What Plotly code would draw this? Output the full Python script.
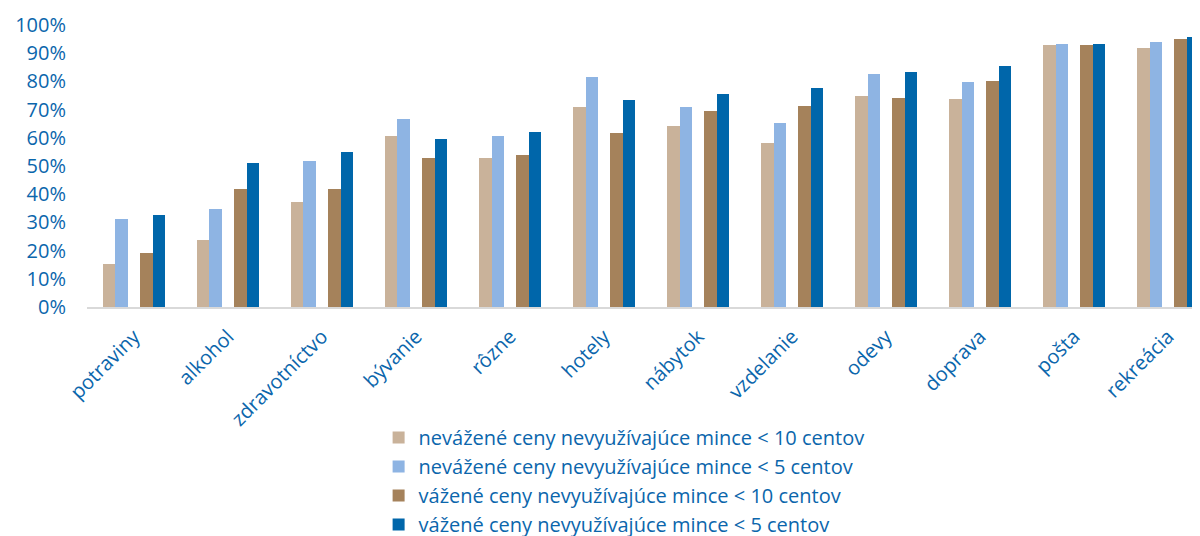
import plotly.graph_objects as go

categories = ["potraviny", "alkohol", "zdravotníctvo", "bývanie", "rôzne", "hotely",
              "nábytok", "vzdelanie", "odevy", "doprava", "pošta", "rekreácia"]

series_names = [
    "nevážené ceny nevyužívajúce mince < 10 centov",
    "nevážené ceny nevyužívajúce mince < 5 centov",
    "vážené ceny nevyužívajúce mince < 10 centov",
    "vážené ceny nevyužívajúce mince < 5 centov",
]

unweighted_10 = [15.2, 23.9, 37.3, 60.6, 52.8, 71.0, 64.2, 58.3, 74.7, 73.8, 93.0, 91.8]
unweighted_5 = [31.2, 34.9, 51.9, 66.8, 60.7, 81.4, 70.9, 65.4, 82.7, 79.8, 93.4, 93.8]
weighted_10 = [19.0, 41.8, 41.8, 52.8, 53.8, 61.7, 69.4, 71.4, 74.1, 80.0, 93.0, 94.9]
weighted_5 = [32.5, 51.0, 55.1, 59.7, 62.1, 73.5, 75.5, 77.8, 83.3, 85.5, 93.4, 95.9]

y_ticks = [0, 10, 20, 30, 40, 50, 60, 70, 80, 90, 100]
y_tick_labels = [f"{v}%" for v in y_ticks]

colors = ["#C9B29A", "#8EB4E3", "#A5825B", "#0066AA"]
offsets = [-0.328, -0.197, 0.066, 0.197]
bar_w = 0.131
text_color = "#0B66AC"
font_family = "'Open Sans', sans-serif"

fig = go.Figure()
for name, vals, col, off in zip(series_names,
                                [unweighted_10, unweighted_5, weighted_10, weighted_5],
                                colors, offsets):
    fig.add_trace(go.Bar(
        x=categories, y=vals, name=name,
        marker=dict(color=col, line=dict(width=0)),
        width=bar_w, offset=off,
    ))

fig.update_layout(
    width=1200, height=536,
    margin=dict(l=79, r=8, t=17, b=237),
    plot_bgcolor="white", paper_bgcolor="white",
    font=dict(family=font_family, color=text_color, size=20),
    showlegend=True,
    legend=dict(
        orientation="v", xref="paper", x=0.262, xanchor="left",
        yref="container", y=0.235, yanchor="top",
        font=dict(size=20, color=text_color), itemwidth=30,
        tracegroupgap=0, bgcolor="rgba(0,0,0,0)",
    ),
    bargap=0,
)
fig.update_xaxes(
    type="category", range=[-0.5, 11.34], tickangle=-45, automargin=False,
    showline=True, linecolor="#D9D9D9", linewidth=2,
    showgrid=False, ticks="", tickfont=dict(size=20, color=text_color),
    ticklabelstandoff=8,
)
fig.update_yaxes(
    range=[0, 100], tickvals=y_ticks, ticktext=y_tick_labels, automargin=False,
    showgrid=False, zeroline=False, showline=False, ticks="",
    tickfont=dict(size=20, color=text_color), ticklabelstandoff=20,
)

fig.write_html("out.html")
